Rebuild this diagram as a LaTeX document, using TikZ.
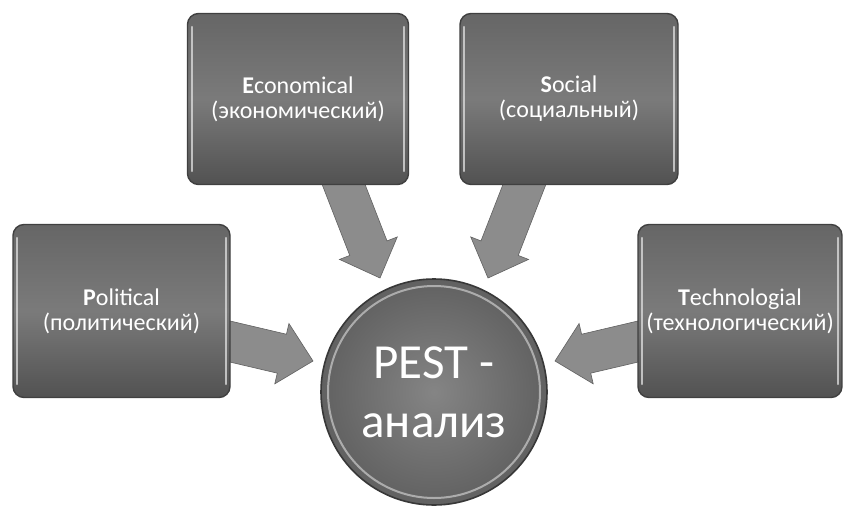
\documentclass[tikz,border=0pt]{standalone}
\usepackage{fontspec}
\setmainfont{Carlito}
\usetikzlibrary{calc,shadows}
\tikzset{
  px/.style={x=1pt,y=-1pt},
  factorbox/.style={rounded corners=11pt, draw=black!75, line width=1.4pt,
    top color=black!60, bottom color=black!68, middle color=black!52,
    text=white, align=center, font=\fontsize{24}{25}\selectfont, inner sep=0pt},
  pestcircle/.style={circle, draw=black!78, line width=1.6pt,
    inner color=black!48, outer color=black!62,
    text=white, align=center, font=\fontsize{49}{59}\selectfont, inner sep=0pt},
  blockarrow/.style={fill=black!45, draw=black!62, line width=0.6pt, line join=miter}
}
\newcommand{\pestarrow}[2]{%
  \coordinate (b) at ($(#2)!32pt!(#1)$);
  \path[blockarrow] ($(#1)!20pt!90:(#2)$) -- ($(b)!20pt!-90:(#1)$) -- ($(b)!31pt!-90:(#1)$)
    -- (#2) -- ($(b)!31pt!90:(#1)$) -- ($(b)!20pt!90:(#1)$) -- ($(#1)!20pt!-90:(#2)$) -- cycle;}
\begin{document}
\begin{tikzpicture}[px]
\useasboundingbox[fill=white] (0,0) rectangle (845,506);
% tails and tips
\coordinate (tE) at (336,165);
\coordinate (pE) at (380,278);
\coordinate (tS) at (532,165);
\coordinate (pS) at (488,278);
\coordinate (tP) at (215,338);
\coordinate (pP) at (313,361);
\coordinate (tT) at (653,338);
\coordinate (pT) at (555,361);
\pestarrow{tE}{pE}
\pestarrow{tS}{pS}
\pestarrow{tP}{pP}
\pestarrow{tT}{pT}
% boxes
\node[factorbox, minimum width=221pt, minimum height=171pt] (econ) at (298,99)
  {\textbf{E}conomical\\(экономический)};
\node[factorbox, minimum width=218pt, minimum height=171pt] (soc) at (569,99)
  {\textbf{S}ocial\\(социальный)};
\node[factorbox, minimum width=217pt, minimum height=173pt] (pol) at (121.5,311)
  {\textbf{P}olitical\\(политический)};
\node[factorbox, minimum width=204pt, minimum height=173pt] (tech) at (740,311)
  {\textbf{T}echnologial\\(технологический)};
% bevel highlights
\foreach \b in {econ,soc,pol,tech}{
  \draw[white!85!black, line width=2pt, line cap=round, opacity=0.8]
    ([xshift=5pt,yshift=-14pt]\b.north west) -- ([xshift=5pt,yshift=14pt]\b.south west);
  \draw[white!85!black, line width=2pt, line cap=round, opacity=0.8]
    ([xshift=-5pt,yshift=-14pt]\b.north east) -- ([xshift=-5pt,yshift=14pt]\b.south east);
}
% centre circle
\node[pestcircle, minimum size=226pt] (pest) at (434,392) {PEST -\\анализ};
\draw[white!80!black, line width=2pt, opacity=0.7] (pest.center) circle (106pt);
\end{tikzpicture}
\end{document}
